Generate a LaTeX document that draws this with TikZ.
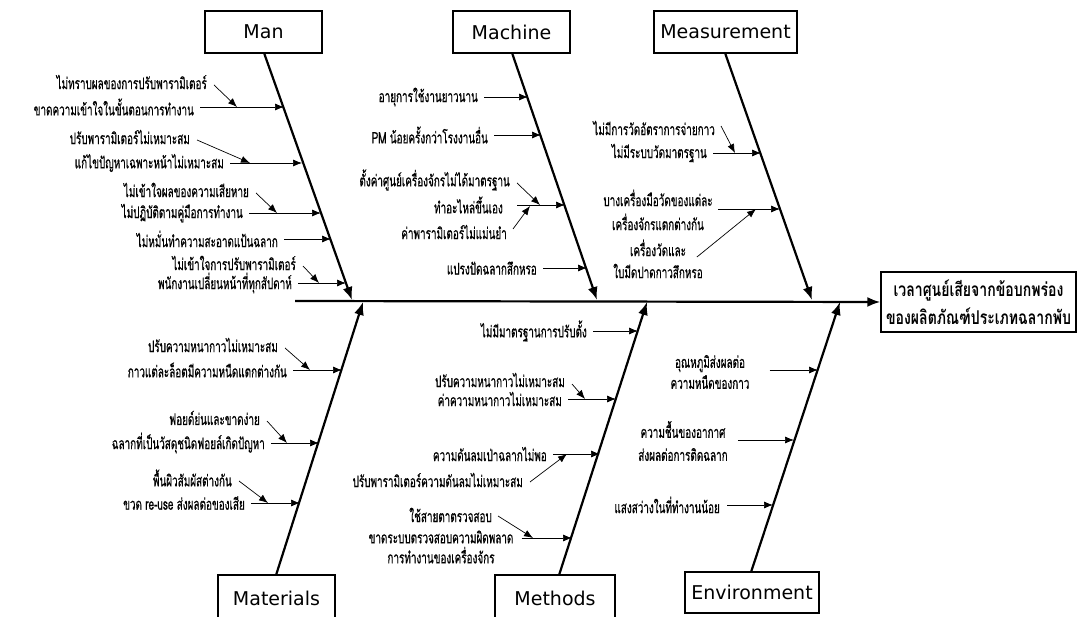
\documentclass[tikz,border=0pt]{standalone}
\usepackage{fontspec}
\newfontfamily\thai[Script=Thai,FakeStretch=0.62,FakeBold=0.6]{Loma}
\newfontfamily\thaibig[Script=Thai,FakeStretch=0.74]{Loma}
\newfontfamily\lat{DejaVu Sans}
\usetikzlibrary{arrows.meta}
\begin{document}
\begin{tikzpicture}[x=1pt,y=-1pt,
  cat/.style={draw,line width=1.4pt,inner sep=0pt,font=\lat\fontsize{19}{22}\selectfont},
  effect/.style={draw,line width=1.4pt,inner sep=0pt,align=center,font=\thaibig\bfseries\fontsize{19}{28}\selectfont},
  bone/.style={line width=2.2pt,-{Latex[length=13pt,width=10pt]}},
  sub/.style={line width=0.7pt,-{Latex[length=9pt,width=7pt]}},
  lbl/.style={font=\thai\fontsize{16}{22}\selectfont,inner sep=0pt,align=center},
  lr/.style={lbl,anchor=east}
]
\clip (0,0) rectangle (1087,617);
% category boxes
\node[cat,minimum width=117pt,minimum height=42pt] (man) at (263.5,32) {Man};
\node[cat,minimum width=117pt,minimum height=42pt] (mach) at (511.5,32) {Machine};
\node[cat,minimum width=143pt,minimum height=42pt] (meas) at (725.5,32) {Measurement};
\node[cat,minimum width=117pt,minimum height=46pt] (mat) at (276.5,598) {Materials};
\node[cat,minimum width=120pt,minimum height=46pt] (meth) at (555,598) {Methods};
\node[cat,minimum width=134pt,minimum height=41pt] (env) at (752,592.5) {Environment};
\node[effect,minimum width=195pt,minimum height=60pt] (eff) at (978.5,302) {เวลาศูนย์เสียจากข้อบกพร่อง\\ของผลิตภัณฑ์ประเภทฉลากพับ};
% spine
\coordinate (sp) at (295,301);
\draw[bone] (sp) -- (eff.west);
% bones
\coordinate (manT) at (352,300);
\coordinate (machT) at (597,300);
\coordinate (measT) at (812,300);
\coordinate (matT) at (363,302);
\coordinate (methT) at (647,302);
\coordinate (envT) at (840,302);
\draw[bone] ([xshift=60pt]man.south west) -- (manT);
\draw[bone] ([xshift=60pt]mach.south west) -- (machT);
\draw[bone] ([xshift=72pt]meas.south west) -- (measT);
\draw[bone] ([xshift=59pt]mat.north west) -- (matT);
\draw[bone] ([xshift=65pt]meth.north west) -- (methT);
\draw[bone] ([xshift=67pt]env.north west) -- (envT);
% ---- Man
\node[lr] (m1) at (207,82) {ไม่ทราบผลของการปรับพารามิเตอร์};
\node[lr] (m2) at (194,107) {ขาดความเข้าใจในขั้นตอนการทำงาน};
\node[lr] (m3) at (190,137) {ปรับพารามิเตอร์ไม่เหมาะสม};
\node[lr] (m4) at (224,163) {แก้ไขปัญหาเฉพาะหน้าไม่เหมาะสม};
\node[lr] (m5) at (249,190) {ไม่เข้าใจผลของความเสียหาย};
\node[lr] (m6) at (243,213) {ไม่ปฏิบัติตามคู่มือการทำงาน};
\node[lr] (m7) at (278,239) {ไม่หมั่นทำความสะอาดแป้นฉลาก};
\node[lr] (m8) at (296,263) {ไม่เข้าใจการปรับพารามิเตอร์};
\node[lr] (m9) at (292,283) {พนักงานเปลี่ยนหน้าที่ทุกสัปดาห์};
\coordinate (m1t) at (237,107); \coordinate (m2t) at (284,107);
\coordinate (m3t) at (250,163); \coordinate (m4t) at (302,163);
\coordinate (m5t) at (277,213); \coordinate (m6t) at (321,213);
\coordinate (m7t) at (331,239);
\coordinate (m8t) at (319,283); \coordinate (m9t) at (346,283);
\draw[sub] ([shift={(7,3)}]m1.east) -- (m1t);
\draw[sub] ([xshift=6pt]m2.east) -- (m2t);
\draw[sub] ([shift={(7,3)}]m3.east) -- (m3t);
\draw[sub] ([xshift=6pt]m4.east) -- (m4t);
\draw[sub] ([shift={(7,3)}]m5.east) -- (m5t);
\draw[sub] ([xshift=6pt]m6.east) -- (m6t);
\draw[sub] ([xshift=6pt]m7.east) -- (m7t);
\draw[sub] ([shift={(7,3)}]m8.east) -- (m8t);
\draw[sub] ([xshift=6pt]m9.east) -- (m9t);
% ---- Machine
\node[lr] (c1) at (478,97) {อายุการใช้งานยาวนาน};
\node[lr] (c2) at (488,135) {PM น้อยครั้งกว่าโรงงานอื่น};
\node[lr] (c3) at (510,180) {ตั้งค่าศูนย์เครื่องจักรไม่ได้มาตรฐาน};
\node[lr] (c4) at (503,205) {ทำอะไหล่ขึ้นเอง};
\node[lr] (c5) at (507,232) {ค่าพารามิเตอร์ไม่แม่นยำ};
\node[lr] (c6) at (537,268) {แปรงปัดฉลากสึกหรอ};
\coordinate (c1t) at (528,97); \coordinate (c2t) at (541,135);
\coordinate (c3t) at (540,205); \coordinate (c4t) at (565,205);
\coordinate (c5t) at (530,206); \coordinate (c6t) at (587,268);
\draw[sub] ([xshift=6pt]c1.east) -- (c1t);
\draw[sub] ([xshift=6pt]c2.east) -- (c2t);
\draw[sub] ([shift={(7,3)}]c3.east) -- (c3t);
\draw[sub] ([xshift=14pt]c4.east) -- (c4t);
\draw[sub] ([shift={(6,-3)}]c5.east) -- (c5t);
\draw[sub] ([xshift=6pt]c6.east) -- (c6t);
% ---- Measurement
\node[lr] (s1) at (715,128) {ไม่มีการวัดอัตราการจ่ายกาว};
\node[lr] (s2) at (707,153) {ไม่มีระบบวัดมาตรฐาน};
\node[lbl,font=\thai\fontsize{16}{24}\selectfont] (s3) at (658,210) {บางเครื่องมือวัดของแต่ละ\\เครื่องจักรแตกต่างกัน};
\node[lbl] (s4) at (658,259) {เครื่องวัดและ\\ใบมีดปาดกาวสึกหรอ};
\coordinate (s1t) at (735,153); \coordinate (s2t) at (761,153);
\coordinate (s3t) at (780,209); \coordinate (s4t) at (756,209);
\draw[sub] ([shift={(6,-2)}]s1.east) -- (s1t);
\draw[sub] ([xshift=6pt]s2.east) -- (s2t);
\draw[sub] ([shift={(5,-1)}]s3.east) -- (s3t);
\draw[sub] ([shift={(-6,-2)}]s4.east) -- (s4t);
% ---- Materials
\node[lr] (a1) at (278,345) {ปรับความหนากาวไม่เหมาะสม};
\node[lr] (a2) at (287,370) {กาวแต่ละล็อตมีความหนืดแตกต่างกัน};
\node[lr] (a3) at (260,418) {ฟอยด์ย่นและขาดง่าย};
\node[lr] (a4) at (265,443) {ฉลากที่เป็นวัสดุชนิดฟอยล์เกิดปัญหา};
\node[lr] (a5) at (232,478) {พื้นผิวสัมผัสต่างกัน};
\node[lr] (a6) at (245,503) {ขวด re-use ส่งผลต่อของเสีย};
\coordinate (a1t) at (310,370); \coordinate (a2t) at (342,370);
\coordinate (a3t) at (287,443); \coordinate (a4t) at (319,443);
\coordinate (a5t) at (268,503); \coordinate (a6t) at (300,503);
\draw[sub] ([shift={(7,3)}]a1.east) -- (a1t);
\draw[sub] ([xshift=6pt]a2.east) -- (a2t);
\draw[sub] ([shift={(7,3)}]a3.east) -- (a3t);
\draw[sub] ([xshift=6pt]a4.east) -- (a4t);
\draw[sub] ([shift={(7,3)}]a5.east) -- (a5t);
\draw[sub] ([xshift=6pt]a6.east) -- (a6t);
% ---- Methods
\node[lr] (t1) at (587,331) {ไม่มีมาตรฐานการปรับตั้ง};
\node[lr] (t2) at (565,380) {ปรับความหนากาวไม่เหมาะสม};
\node[lr] (t3) at (562,399) {ค่าความหนากาวไม่เหมาะสม};
\node[lr] (t4) at (547,454) {ความดันลมเป่าฉลากไม่พอ};
\node[lr] (t5) at (523,480) {ปรับพารามิเตอร์ความดันลมไม่เหมาะสม};
\node[lr] (t6) at (492,515) {ใช้สายตาตรวจสอบ};
\node[lbl,font=\thai\fontsize{16}{20}\selectfont] (t7) at (441,547) {ขาดระบบตรวจสอบความผิดพลาด\\การทำงานของเครื่องจักร};
\coordinate (t1t) at (638,331); \coordinate (t2t) at (585,399);
\coordinate (t3t) at (616,399); \coordinate (t4t) at (600,454);
\coordinate (t5t) at (567,454); \coordinate (t6t) at (533,538);
\coordinate (t7t) at (572,538);
\draw[sub] ([xshift=6pt]t1.east) -- (t1t);
\draw[sub] ([shift={(7,4)}]t2.east) -- (t2t);
\draw[sub] ([xshift=6pt]t3.east) -- (t3t);
\draw[sub] ([xshift=6pt]t4.east) -- (t4t);
\draw[sub] ([shift={(7,2)}]t5.east) -- (t5t);
\draw[sub] ([shift={(6,1)}]t6.east) -- (t6t);
\draw[sub] ([shift={(8,-9)}]t7.east) -- (t7t);
% ---- Environment
\node[lbl,font=\thai\fontsize{16}{21}\selectfont] (e1) at (710,372) {อุณหภูมิส่งผลต่อ\\ความหนืดของกาว};
\node[lbl,font=\thai\fontsize{16}{23}\selectfont] (e2) at (683,441) {ความชื้นของอากาศ\\ส่งผลต่อการติดฉลาก};
\node[lr] (e3) at (720,505) {แสงสว่างในที่ทำงานน้อย};
\coordinate (e1t) at (818,370); \coordinate (e2t) at (794,440);
\coordinate (e3t) at (773,505);
\draw[sub] ([shift={(20,-2)}]e1.east) -- (e1t);
\draw[sub] ([shift={(10,-1)}]e2.east) -- (e2t);
\draw[sub] ([xshift=7pt]e3.east) -- (e3t);
\end{tikzpicture}
\end{document}
